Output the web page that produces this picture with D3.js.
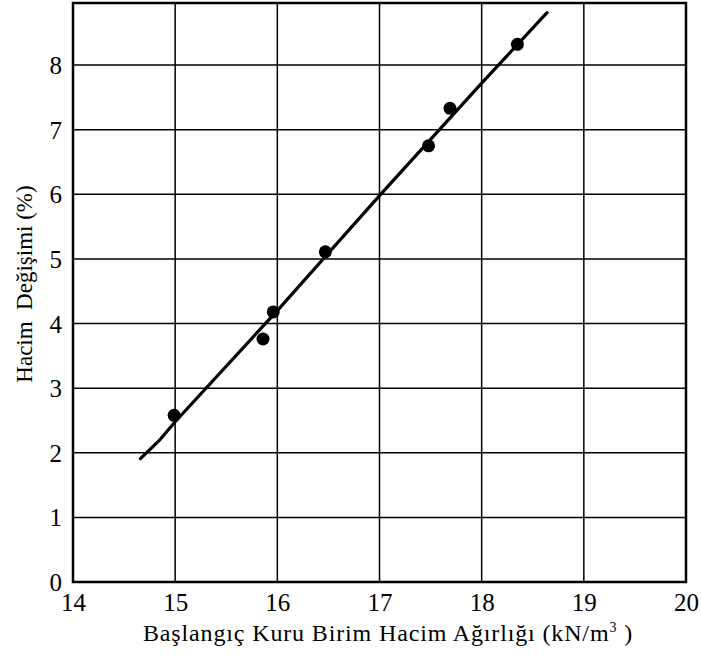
<!DOCTYPE html>
<html>
<head>
<meta charset="utf-8">
<script src="https://cdn.jsdelivr.net/npm/d3@7"></script>
<style>
  body { margin: 0; background: #fff; }
  svg text { font-family: "Liberation Serif", "Times New Roman", serif; fill: #000; }
</style>
</head>
<body>
<script>
const WIDTH = 701, HEIGHT = 657;
const MARGIN = { left: 73, right: 15, top: 3, bottom: 75 };
const SERIF = '"Liberation Serif", "Times New Roman", serif';

// measured points
const densityValues = [14.99, 15.86, 15.96, 16.47, 17.48, 17.69, 18.35];
const volumeChange = [2.58, 3.76, 4.18, 5.11, 6.75, 7.33, 8.32];
// hand-drawn fit line
const fitX = [14.66, 14.85, 15.0, 16.0, 17.0, 18.0, 18.64];
const fitY = [1.91, 2.2, 2.48, 4.2, 5.98, 7.72, 8.81];
const xTicks = [14, 15, 16, 17, 18, 19, 20];
const yTicks = [0, 1, 2, 3, 4, 5, 6, 7, 8];

const x = d3.scaleLinear([14, 20], [MARGIN.left, WIDTH - MARGIN.right]);
const y = d3.scaleLinear([0, 8.96], [HEIGHT - MARGIN.bottom, MARGIN.top]);

const svg = d3.select('body').append('svg')
    .attr('width', WIDTH)
    .attr('height', HEIGHT);

// grid
svg.append('g')
    .attr('stroke', '#000')
    .attr('stroke-width', 1.5)
  .selectAll('line')
  .data(xTicks.slice(1, -1))
  .join('line')
    .attr('x1', d => x(d)).attr('x2', d => x(d))
    .attr('y1', y.range()[0]).attr('y2', y.range()[1]);

svg.append('g')
    .attr('stroke', '#000')
    .attr('stroke-width', 1.5)
  .selectAll('line')
  .data(yTicks.slice(1))
  .join('line')
    .attr('x1', x.range()[0]).attr('x2', x.range()[1])
    .attr('y1', d => y(d)).attr('y2', d => y(d));

// frame
svg.append('rect')
    .attr('x', x.range()[0])
    .attr('y', y.range()[1])
    .attr('width', x.range()[1] - x.range()[0])
    .attr('height', y.range()[0] - y.range()[1])
    .attr('fill', 'none')
    .attr('stroke', '#000')
    .attr('stroke-width', 2.5);

// axes (labels only)
const xAxis = svg.append('g')
    .attr('transform', `translate(0,${y.range()[0]})`)
    .call(d3.axisBottom(x).tickValues(xTicks).tickSize(0).tickPadding(11).tickFormat(d3.format('d')));
xAxis.attr('font-family', SERIF);
xAxis.select('.domain').remove();
xAxis.selectAll('text').style('font-size', '25px');

const yAxis = svg.append('g')
    .attr('transform', `translate(${x.range()[0]},0)`)
    .call(d3.axisLeft(y).tickValues(yTicks).tickSize(0).tickPadding(11).tickFormat(d3.format('d')));
yAxis.attr('font-family', SERIF);
yAxis.select('.domain').remove();
yAxis.selectAll('text').style('font-size', '25px').attr('dy', '0.34em');

// fit line
const line = d3.line().x(d => x(d[0])).y(d => y(d[1]));
svg.append('path')
    .datum(d3.zip(fitX, fitY))
    .attr('d', line)
    .attr('fill', 'none')
    .attr('stroke', '#000')
    .attr('stroke-width', 3.2)
    .attr('stroke-linecap', 'round')
    .attr('stroke-linejoin', 'round');

// points
svg.append('g')
  .selectAll('circle')
  .data(d3.zip(densityValues, volumeChange))
  .join('circle')
    .attr('cx', d => x(d[0]))
    .attr('cy', d => y(d[1]))
    .attr('r', 6.5)
    .attr('fill', '#000');

// axis titles
const xTitle = svg.append('text')
    .attr('x', 143)
    .attr('y', 641)
    .style('font-size', '24px')
    .style('white-space', 'pre');
xTitle.append('tspan').text('Başlangıç Kuru Birim Hacim Ağırlığı (kN/m');
xTitle.append('tspan').attr('dy', -9).style('font-size', '14px').text('3');
xTitle.append('tspan').attr('dy', 9).text(' )');
// stretch to the span of the original title
const wantW = 490, haveW = xTitle.node().getComputedTextLength();
xTitle.style('letter-spacing', `${Math.max(0, wantW - haveW) / 44}px`);

svg.append('text')
    .attr('transform', 'translate(32,284) rotate(-90)')
    .attr('text-anchor', 'middle')
    .style('font-size', '23px')
    .style('white-space', 'pre')
    .text('Hacim  Değişimi (%)');
</script>
</body>
</html>
